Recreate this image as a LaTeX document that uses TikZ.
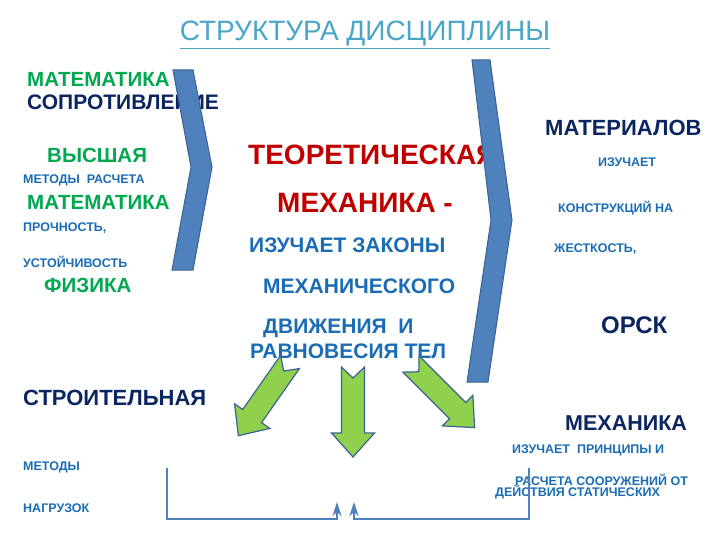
\documentclass[tikz,border=0pt]{standalone}
\usepackage{fontspec}
\setmainfont{Liberation Sans}
\usetikzlibrary{arrows.meta}

\definecolor{grn}{HTML}{00A850}
\definecolor{navy}{HTML}{0B2560}
\definecolor{blu}{HTML}{1A6DB5}
\definecolor{dred}{HTML}{C00000}
\definecolor{ttl}{HTML}{4AA6C9}
\definecolor{chevfill}{HTML}{4F81BD}
\definecolor{chevline}{HTML}{3A6294}
\definecolor{lgrn}{HTML}{8FD04C}

\tikzset{
  lbl/.style={inner sep=0pt, anchor=base west},
  sz/.style={font=\bfseries\fontsize{#1}{#1}\selectfont},
  chev/.style={fill=chevfill, draw=chevline, line width=1pt},
  bracket/.style={draw=chevfill, line width=1.5pt},
  grarrow/.pic={
    \draw[fill=lgrn, draw=chevline, line width=1.2pt]
      (0,-11.5) -- (66,-11.5) -- (66,-21.5) -- (90,0) -- (66,21.5)
      -- (66,11.5) -- (0,11.5) -- (11,0) -- cycle;
  }
}

\begin{document}
\begin{tikzpicture}[x=1pt,y=-1pt]
      \useasboundingbox[fill=white] (0,0) rectangle (720,540);
      % title
      \node[inner sep=0pt, anchor=base, text=ttl, font=\fontsize{28}{28}\selectfont] (title) at (365,41) {\underline{СТРУКТУРА ДИСЦИПЛИНЫ}};
      % left column
      \node[lbl,sz=20.5,text=grn] (mat1) at (27,87) {МАТЕМАТИКА};
      \node[lbl,sz=21,text=navy] (sopr) at (27,110) {СОПРОТИВЛЕНИЕ};
      \node[lbl,sz=20.5,text=grn] (vysh) at (47,163) {ВЫСШАЯ};
      \node[lbl,sz=12.5,text=blu] (metody1) at (23,184) {МЕТОДЫ\ \ РАСЧЕТА};
      \node[lbl,sz=20.5,text=grn] (mat2) at (27,210) {МАТЕМАТИКА};
      \node[lbl,sz=12.5,text=blu] (proch) at (23,231) {ПРОЧНОСТЬ,};
      \node[lbl,sz=12.5,text=blu] (ustoy) at (23,267) {УСТОЙЧИВОСТЬ};
      \node[lbl,sz=20.5,text=grn] (fiz) at (44,292) {ФИЗИКА};
      % middle
      \node[lbl,sz=28,text=dred] (teor) at (248,165) {ТЕОРЕТИЧЕСКАЯ};
      \node[lbl,sz=28,text=dred] (mekh) at (277,212) {МЕХАНИКА -};
      \node[lbl,sz=21,text=blu] (zakony) at (249,252) {ИЗУЧАЕТ ЗАКОНЫ};
      \node[lbl,sz=21,text=blu] (mekhch) at (263,293) {МЕХАНИЧЕСКОГО};
      \node[lbl,sz=21,text=blu] (dvizh) at (263,333) {ДВИЖЕНИЯ\ \ И};
      \node[lbl,sz=21,text=blu] (ravn) at (250,358) {РАВНОВЕСИЯ ТЕЛ};
      % right column
      \node[lbl,sz=22,text=navy] (materialov) at (545,136) {МАТЕРИАЛОВ};
      \node[lbl,sz=12.5,text=blu] (izuch) at (598,167) {ИЗУЧАЕТ};
      \node[lbl,sz=12.5,text=blu] (konstr) at (558,213) {КОНСТРУКЦИЙ НА};
      \node[lbl,sz=12.5,text=blu] (zhest) at (554,252) {ЖЕСТКОСТЬ,};
      \node[lbl,sz=24,text=navy] (orsk) at (601,333) {ОРСК};
      % bottom
      \node[lbl,sz=22,text=navy] (stroit) at (23,405) {СТРОИТЕЛЬНАЯ};
      \node[lbl,sz=12.5,text=blu] (metody2) at (23,470) {МЕТОДЫ};
      \node[lbl,sz=12.5,text=blu] (nagr) at (23,512) {НАГРУЗОК};
      \node[lbl,sz=21.5,text=navy] (mekh2) at (565,430) {МЕХАНИКА};
      \node[lbl,sz=12.5,text=blu] (princ) at (512,453) {ИЗУЧАЕТ\ \ ПРИНЦИПЫ И};
      \node[lbl,sz=12.5,text=blu] (rasch) at (515,485) {РАСЧЕТА СООРУЖЕНИЙ ОТ};
      \node[lbl,sz=12.5,text=blu] (deystv) at (495,496) {ДЕЙСТВИЯ СТАТИЧЕСКИХ};
      % chevrons
      \draw[chev] (173,70) -- (193,70) -- (212,167) -- (193,270) -- (172,270) -- (191,167) -- cycle;
      \draw[chev] (472,60) -- (490,60) -- (512,220) -- (488,382) -- (467,382) -- (491,220) -- cycle;
      % green arrows
      \pic[rotate=-125] at (290,362) {grarrow};
      \pic[rotate=-90] at (353,367) {grarrow};
      \pic[rotate=-45] at (411,364) {grarrow};
      % bracket
      \coordinate (bl) at (167,468);
      \coordinate (br) at (529,468);
      \coordinate (al) at (337,502);
      \coordinate (ar) at (354,502);
      \coordinate (base) at (0,519);
      \draw[bracket,-{Stealth[length=14pt,width=9pt,inset=4pt]}] (bl) -- (bl |- base) -- (al |- base) -- (al);
      \draw[bracket,-{Stealth[length=14pt,width=9pt,inset=4pt]}] (br) -- (br |- base) -- (ar |- base) -- (ar);
    \end{tikzpicture}
\end{document}
